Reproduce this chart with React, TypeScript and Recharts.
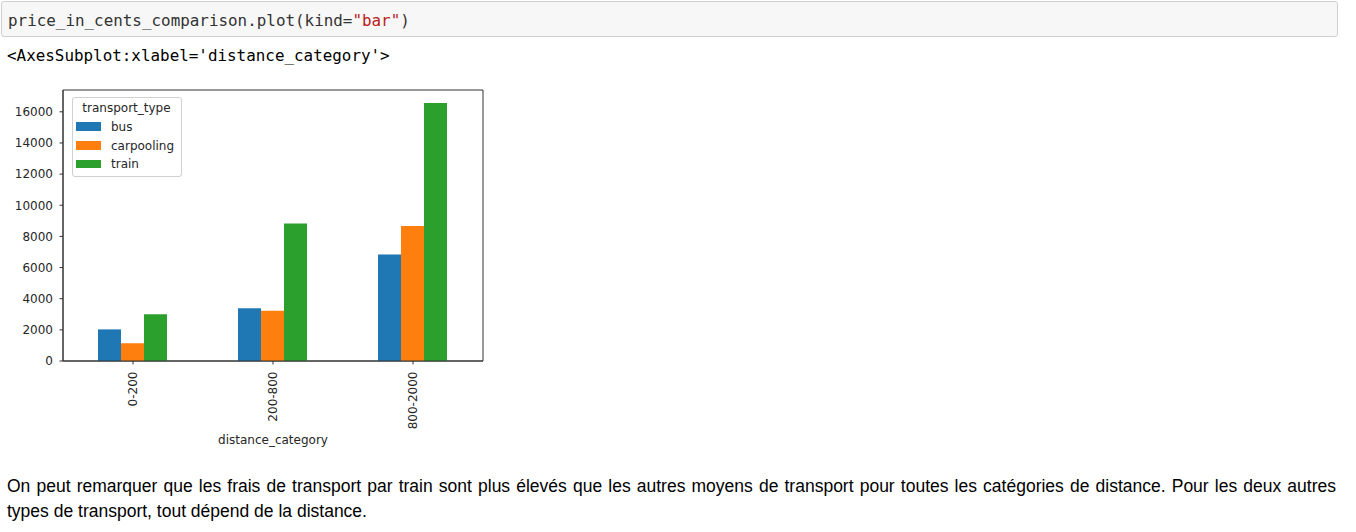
import React from 'react';
import { BarChart, Bar, XAxis, YAxis, Legend, ReferenceArea } from 'recharts';

const categories = ['0-200', '200-800', '800-2000'];
const busValues = [2030, 3380, 6830];
const carpoolingValues = [1140, 3230, 8660];
const trainValues = [3000, 8830, 16570];
const yTicks = [0, 2000, 4000, 6000, 8000, 10000, 12000, 14000, 16000];
const seriesNames = ['bus', 'carpooling', 'train'];
const seriesColors = ['#1f77b4', '#ff7f0e', '#2ca02c'];
const yMax = 17400;

const data = categories.map((c, i) => ({
  category: c,
  bus: busValues[i],
  carpooling: carpoolingValues[i],
  train: trainValues[i],
}));

const FONT = "'DejaVu Sans', sans-serif";
const AXIS = '#333';
const TXT = '#262626';

const RotTick = (props: any) => {
  const { x, y, payload } = props;
  return (
    <text
      x={x}
      y={y}
      transform={`rotate(-90, ${x}, ${y})`}
      textAnchor="end"
      dy="0.35em"
      fontSize={12}
      fontFamily={FONT}
      fill={TXT}
    >
      {payload.value}
    </text>
  );
};

const LegendBox = (props: any) => {
  const payload = props.payload || [];
  const rows = [29.5, 48.5, 67];
  return (
    <div
      style={{
        position: 'relative',
        width: 110,
        height: 80,
        boxSizing: 'border-box',
        border: '1px solid #d0d0d0',
        borderRadius: 3,
        background: 'rgba(255,255,255,0.85)',
        fontFamily: FONT,
        fontSize: 12,
        color: TXT,
      }}
    >
      <div style={{ position: 'absolute', left: 0, width: 108, top: 2, lineHeight: '16px', textAlign: 'center' }}>
        transport_type
      </div>
      {payload.map((p: any, i: number) => (
        <React.Fragment key={p.value}>
          <div
            style={{
              position: 'absolute',
              left: 3,
              top: rows[i] - 4.2 - 1,
              width: 25,
              height: 8.4,
              background: p.color,
            }}
          />
          <div style={{ position: 'absolute', left: 38.5, top: rows[i] - 8 - 1, lineHeight: '16px', whiteSpace: 'nowrap' }}>
            {p.value}
          </div>
        </React.Fragment>
      ))}
    </div>
  );
};

export default function App() {
  return (
    <div style={{ position: 'absolute', left: 0, top: 0, width: 1356, height: 532, background: '#fff', overflow: 'hidden' }}>
      <div
        style={{
          position: 'absolute',
          left: 1,
          top: 1,
          width: 1337,
          height: 36,
          boxSizing: 'border-box',
          border: '1px solid #cfcfcf',
          borderRadius: 3,
          background: '#f7f7f7',
        }}
      />
      <div
        style={{
          position: 'absolute',
          left: 8,
          top: 10,
          lineHeight: '22px',
          fontFamily: "'DejaVu Sans Mono', monospace",
          fontSize: 15.9,
          color: '#333',
          whiteSpace: 'pre',
        }}
      >
        price_in_cents_comparison.plot(kind=<span style={{ color: '#BA2121' }}>"bar"</span>)
      </div>
      <div
        style={{
          position: 'absolute',
          left: 7,
          top: 44.5,
          lineHeight: '22px',
          fontFamily: "'DejaVu Sans Mono', monospace",
          fontSize: 15.9,
          color: '#000',
          whiteSpace: 'pre',
        }}
      >
        {"<AxesSubplot:xlabel='distance_category'>"}
      </div>

      <div style={{ position: 'absolute', left: 0, top: 80 }}>
        <BarChart
          width={500}
          height={380}
          data={data}
          margin={{ top: 10, right: 17, bottom: 0, left: 8 }}
          barCategoryGap="25%"
          barGap={0}
        >
          <XAxis
            dataKey="category"
            interval={0}
            height={99}
            tickSize={3.5}
            tickMargin={7}
            tick={<RotTick />}
            tickLine={{ stroke: AXIS }}
            axisLine={{ stroke: AXIS }}
            label={{
              value: 'distance_category',
              position: 'insideBottom',
              offset: 16,
              fill: TXT,
              fontSize: 12,
              fontFamily: FONT,
            }}
          />
          <YAxis
            width={55}
            domain={[0, yMax]}
            ticks={yTicks}
            interval={0}
            tickSize={3.5}
            tickMargin={6.5}
            tickLine={{ stroke: AXIS }}
            axisLine={{ stroke: AXIS }}
            tick={{ fontSize: 12, fontFamily: FONT, fill: TXT }}
          />
          <Legend
            layout="horizontal"
            verticalAlign="middle"
            align="center"
            content={<LegendBox />}
            wrapperStyle={{ position: 'absolute', left: 71.5, top: 17, width: 110, height: 80, margin: 0, padding: 0 }}
          />
          {seriesNames.map((s, i) => (
            <Bar key={s} dataKey={s} name={s} fill={seriesColors[i]} isAnimationActive={false} />
          ))}
          <ReferenceArea y1={0} y2={yMax} fill="none" fillOpacity={0} stroke={AXIS} strokeWidth={1} ifOverflow="visible" />
        </BarChart>
      </div>

      <div
        style={{
          position: 'absolute',
          left: 7,
          top: 473.5,
          width: 1329,
          fontFamily: "'Liberation Sans', Arial, sans-serif",
          fontSize: 17.5,
          lineHeight: '25px',
          color: '#000',
          textAlign: 'justify',
        }}
      >
        On peut remarquer que les frais de transport par train sont plus élevés que les autres moyens de transport pour toutes les catégories de distance. Pour les deux autres types de transport, tout dépend de la distance.
      </div>
    </div>
  );
}
